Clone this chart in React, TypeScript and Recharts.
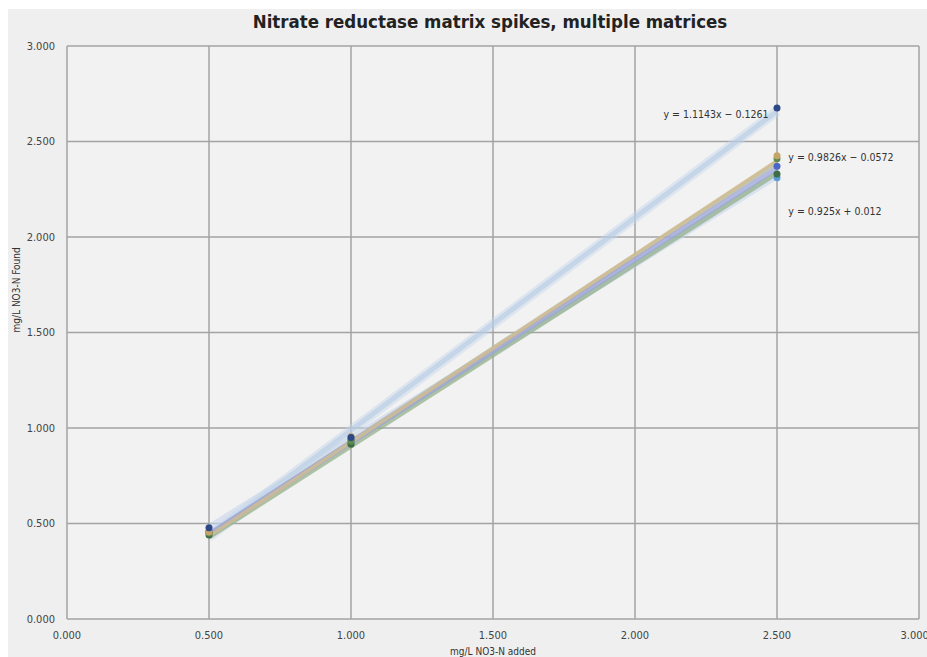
import { ScatterChart, Scatter, XAxis, YAxis, CartesianGrid, ReferenceDot } from 'recharts';

document.body.style.margin = '0';

const FONT = '"DejaVu Sans Condensed", "DejaVu Sans", sans-serif';

const xAdded = [0.5, 1.0, 2.5];
const axisTicks = [0, 0.5, 1, 1.5, 2, 2.5, 3];

// mg/L found per matrix
const matrixA = [0.478, 0.95, 2.675];
const matrixB = [0.455, 0.955, 2.425];
const matrixC = [0.45, 0.93, 2.41];
const matrixD = [0.46, 0.94, 2.37];
const matrixE = [0.44, 0.915, 2.33];
const matrixF = [0.455, 0.92, 2.31];

// trendline end values at x = 0.5 and x = 2.5
const trendX = [0.5, 2.5];
const trendA = [0.431, 2.659];
const trendB = [0.434, 2.399];
const trendC = [0.44, 2.39];
const trendD = [0.445, 2.36];
const trendE = [0.43, 2.335];
const trendF = [0.475, 2.325];

const equations = [
  { x: 2.47, y: 2.645, text: 'y = 1.1143x − 0.1261', side: 'left' },
  { x: 2.54, y: 2.415, text: 'y = 0.9826x − 0.0572', side: 'right' },
  { x: 2.54, y: 2.133, text: 'y = 0.925x + 0.012', side: 'right' },
];

const toPts = (xs: number[], ys: number[]) => xs.map((x, i) => ({ x, y: ys[i] }));

const points = [
  { data: matrixF, color: '#5b9bd8' },
  { data: matrixE, color: '#3f6b45' },
  { data: matrixD, color: '#4a66c8' },
  { data: matrixC, color: '#5e8a4e' },
  { data: matrixB, color: '#c4a468' },
  { data: matrixA, color: '#2d4787' },
];

const trends = [
  { data: trendA, color: '#c3d5ea', width: 10, op: 0.45 },
  { data: trendA, color: '#b6cbe3', width: 5, op: 0.6 },
  { data: trendF, color: '#c6d6ea', width: 8, op: 0.6 },
  { data: trendE, color: '#8fae85', width: 5, op: 0.7 },
  { data: trendC, color: '#aab4a2', width: 5, op: 0.7 },
  { data: trendD, color: '#9ea6da', width: 5, op: 0.75 },
  { data: trendB, color: '#d3bd90', width: 3.5, op: 0.8 },
];

const fmt = (v: number) => v.toFixed(3);
const noDot = () => <g />;

export default function App() {
  return (
    <div style={{ position: 'relative', width: 927, height: 657, background: '#fff', overflow: 'hidden', fontFamily: FONT }}>
      <div style={{ position: 'absolute', left: 8, top: 9, right: 0, bottom: 0, background: '#efefef' }} />
      <div style={{ position: 'absolute', top: 11, left: 0, width: 980, textAlign: 'center', fontWeight: 'bold', fontSize: 18.5, color: '#222' }}>
        Nitrate reductase matrix spikes, multiple matrices
      </div>
      <div style={{ position: 'absolute', top: 0, left: 0 }}>
        <ScatterChart width={927} height={657} margin={{ top: 46, right: 8, bottom: 0, left: 0 }}>
          <CartesianGrid stroke="#a3a3a3" strokeWidth={1.5} fill="#f2f2f2" horizontalValues={axisTicks} verticalValues={axisTicks} />
          <XAxis
            type="number"
            dataKey="x"
            domain={[0, 3]}
            ticks={axisTicks}
            tickFormatter={fmt}
            height={38}
            axisLine={false}
            tickLine={false}
            tickMargin={6}
            tick={{ fontSize: 11, fill: '#444', fontFamily: FONT }}
            label={{ value: 'mg/L NO3-N added', position: 'insideBottom', offset: 2, fontSize: 10, fill: '#333', fontFamily: FONT }}
          />
          <YAxis
            type="number"
            dataKey="y"
            domain={[0, 3]}
            ticks={axisTicks}
            tickFormatter={fmt}
            width={67}
            axisLine={false}
            tickLine={false}
            tickMargin={6}
            tick={{ fontSize: 11, fill: '#444', fontFamily: FONT }}
            label={{ value: 'mg/L NO3-N Found', angle: -90, position: 'insideLeft', offset: 16, fontSize: 10, fill: '#333', fontFamily: FONT }}
          />
          {trends.map((t, i) => (
            <Scatter
              key={'t' + i}
              data={toPts(trendX, t.data)}
              fill="none"
              line={{ stroke: t.color, strokeWidth: t.width, strokeOpacity: t.op }}
              shape={noDot}
              legendType="none"
              isAnimationActive={false}
            />
          ))}
          {points.map((p, i) => (
            <Scatter
              key={'p' + i}
              data={toPts(xAdded, p.data)}
              fill={p.color}
              shape={(props: any) => <circle cx={props.cx} cy={props.cy} r={3.5} fill={p.color} />}
              isAnimationActive={false}
            />
          ))}
          {equations.map((e, i) => (
            <ReferenceDot
              key={'e' + i}
              x={e.x}
              y={e.y}
              r={0}
              stroke="none"
              fill="none"
              ifOverflow="visible"
              label={{ value: e.text, position: e.side as any, offset: 0, fontSize: 10.5, fill: '#333', fontFamily: FONT }}
            />
          ))}
        </ScatterChart>
      </div>
    </div>
  );
}
